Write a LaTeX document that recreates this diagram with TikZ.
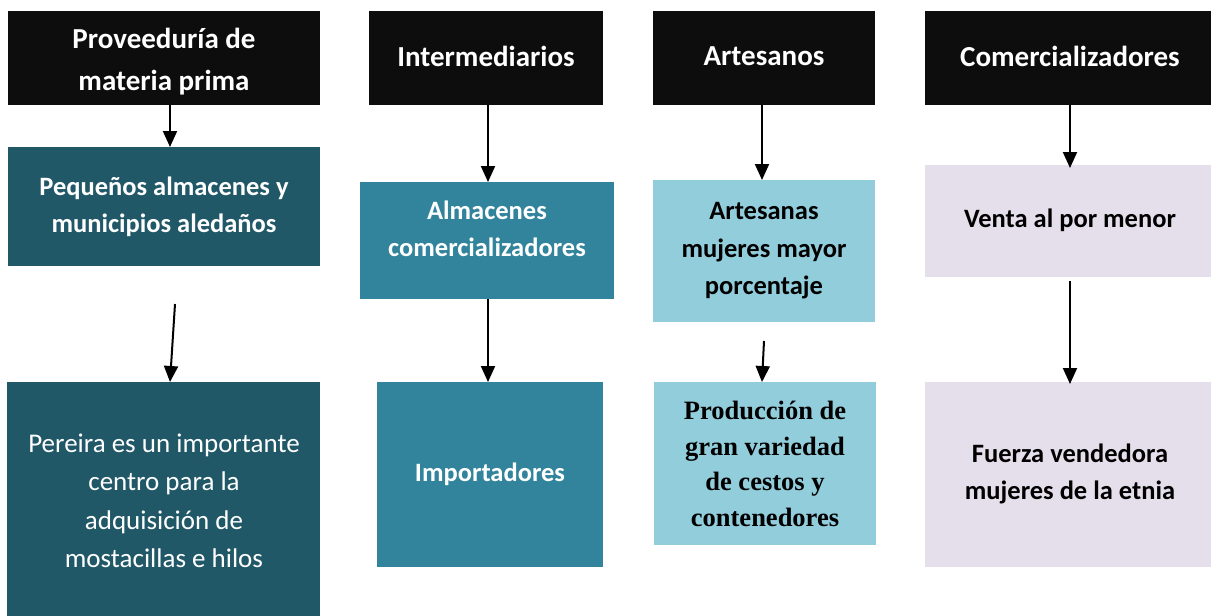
\documentclass[tikz,border=0pt]{standalone}
\usepackage{fontspec}
\setmainfont{Carlito}
\newfontfamily\serifbold{Liberation Serif}
\usetikzlibrary{arrows.meta}
\definecolor{hdr}{HTML}{0D0D0D}
\definecolor{darkteal}{HTML}{215868}
\definecolor{midteal}{HTML}{31849B}
\definecolor{lightblue}{HTML}{92CDDC}
\definecolor{lavender}{HTML}{E5DFEC}
\tikzset{
  box/.style={draw=none, inner sep=0pt, outer sep=0pt, anchor=north west},
  txt/.style={align=center, font=\fontsize{26.5}{37.5}\selectfont\bfseries, inner sep=0pt, yshift=-2pt},
  htxt/.style={align=center, inner sep=0pt, text=white, font=\fontsize{29}{42}\selectfont\bfseries},
  conn/.style={line width=2pt, -{Triangle[width=14pt,length=16pt]}},
}
\begin{document}
\begin{tikzpicture}[x=1pt,y=-1pt]
\useasboundingbox (0,0) rectangle (1211,616);
\fill[white] (0,0) rectangle (1211,616);
% boxes
\node[box, fill=hdr, minimum width=312pt, minimum height=94pt] (h1) at (8,11) {};
\node[box, fill=hdr, minimum width=234pt, minimum height=94pt] (h2) at (369,11) {};
\node[box, fill=hdr, minimum width=222pt, minimum height=94pt] (h3) at (653,11) {};
\node[box, fill=hdr, minimum width=286pt, minimum height=94pt] (h4) at (925,11) {};
\node[box, fill=darkteal, minimum width=312pt, minimum height=119pt] (a1) at (8,147) {};
\node[box, fill=darkteal, minimum width=313pt, minimum height=234pt] (b1) at (7,382) {};
\node[box, fill=midteal, minimum width=254pt, minimum height=117pt] (a2) at (360,182) {};
\node[box, fill=midteal, minimum width=226pt, minimum height=185pt] (b2) at (377,382) {};
\node[box, fill=lightblue, minimum width=222pt, minimum height=142pt] (a3) at (653,180) {};
\node[box, fill=lightblue, minimum width=222pt, minimum height=163pt] (b3) at (654,382) {};
\node[box, fill=lavender, minimum width=286pt, minimum height=112pt] (a4) at (925,165) {};
\node[box, fill=lavender, minimum width=286pt, minimum height=185pt] (b4) at (925,382) {};
% texts
\node[htxt] (t h1) at (164,62) {Proveeduría de\\materia prima};
\node[htxt] (t h2) at (486,56) {Intermediarios};
\node[htxt] (t h3) at (764,56) {Artesanos};
\node[htxt] (t h4) at (1070,56) {Comercializadores};
\node[txt, text=white] (t a1) at (164,205) {Pequeños almacenes y\\municipios aledaños};
\node[txt, text=white, font=\fontsize{27}{38.5}\selectfont] (t b1) at (164,499) {Pereira es un importante\\centro para la\\adquisición de\\mostacillas e hilos};
\node[txt, text=white] (t a2) at (487,227) {Almacenes\\comercializadores};
\node[txt, text=white] (t b2) at (490,472) {Importadores};
\node[txt, text=black] (t a3) at (764,249) {Artesanas\\mujeres mayor\\porcentaje};
\node[txt, text=black, font=\fontsize{26.5}{35.5}\serifbold\bfseries] (t b3) at (765,462) {Producción de\\gran variedad\\de cestos y\\contenedores};
\node[txt, text=black] (t a4) at (1070,218) {Venta al por menor};
\node[txt, text=black] (t b4) at (1070,472) {Fuerza vendedora\\mujeres de la etnia};
% connectors
\draw[conn] (h1.south -| 170,0) -- (a1.north -| 170,0);
\coordinate (s1) at (175,304);
\draw[conn] (s1) -- (b1.north -| 170,0);
\draw[conn] (h2.south -| 488,0) -- (a2.north -| 488,0);
\draw[conn] (a2.south -| 488,0) -- (b2.north -| 488,0);
\draw[conn] (h3.south -| 762,0) -- (a3.north -| 762,0);
\coordinate (s3) at (764,341);
\draw[conn] (s3) -- (b3.north -| 762,0);
\draw[conn] (h4.south -| 1070,0) -- ([yshift=-3pt]a4.north -| 1070,0);
\coordinate (s4) at (1070,281);
\draw[conn] (s4) -- ([yshift=-2pt]b4.north -| 1070,0);
\end{tikzpicture}
\end{document}
